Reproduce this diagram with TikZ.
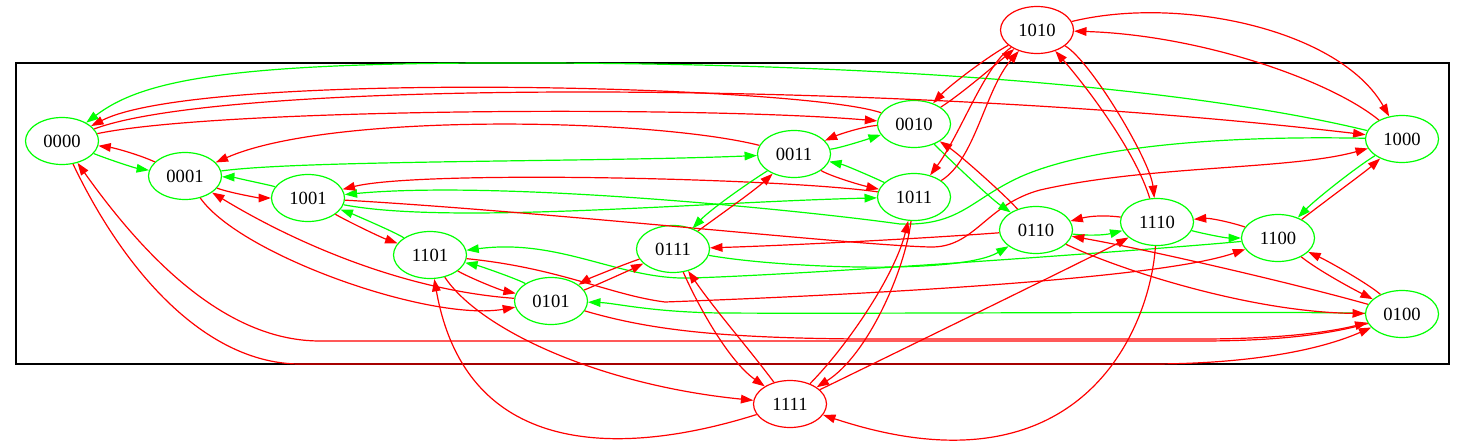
\documentclass[tikz,border=0pt]{standalone}
\usepackage{fontspec}
\setmainfont{Liberation Serif}
\usetikzlibrary{shapes.geometric,arrows.meta}
\definecolor{gvred}{RGB}{255,0,0}
\definecolor{gvgreen}{RGB}{0,255,0}
\begin{document}
\begin{tikzpicture}[x=0.5pt,y=-0.5pt,
  st/.style={ellipse,draw=#1,line width=0.6pt,minimum width=36.5pt,minimum height=23.5pt,inner sep=0pt,font=\fontsize{9.3}{11}\selectfont},
  ed/.style={draw=#1,line width=0.6pt,-{Triangle[length=6.2pt,width=4.3pt]}},
  rd/.style={ed=gvred}, gr/.style={ed=gvgreen}]
\useasboundingbox (0,0) rectangle (1465,444);
\draw[line width=0.6pt] (16,63) rectangle (1449,364);
% nodes
\node[st=gvred]   (a1010) at (1037,30)  {1010};
\node[st=gvgreen] (a0000) at (62,141)   {0000};
\node[st=gvgreen] (a0001) at (185,176)  {0001};
\node[st=gvgreen] (a1001) at (308,198)  {1001};
\node[st=gvgreen] (a1101) at (430,255)  {1101};
\node[st=gvgreen] (a0101) at (551,301)  {0101};
\node[st=gvgreen] (a0111) at (673,249)  {0111};
\node[st=gvgreen] (a0011) at (794,154)  {0011};
\node[st=gvgreen] (a0010) at (914,124)  {0010};
\node[st=gvgreen] (a1011) at (914,197)  {1011};
\node[st=gvgreen] (a0110) at (1036,230) {0110};
\node[st=gvgreen] (a1110) at (1157,222) {1110};
\node[st=gvgreen] (a1100) at (1278,238) {1100};
\node[st=gvgreen] (a1000) at (1402,139) {1000};
\node[st=gvgreen] (a0100) at (1402,314) {0100};
\node[st=gvred]   (a1111) at (790,404)  {1111};
% 0000
\draw[gr] (a0000) .. controls (110,160) and (135,168) .. (a0001);
\draw[rd] (a0001) .. controls (140,155) and (115,148) .. (a0000);
\draw[rd] (a0000) .. controls (220,108) and (700,106) .. (a0010);
\draw[rd] (a0000) .. controls (230,78) and (900,80) .. (a1000);
\draw[rd] (a0010) .. controls (800,85) and (200,70) .. (a0000);
\draw[rd] (a0000) .. controls (128,279) and (210,364) .. (300,364) -- (1150,364) .. controls (1250,364) and (1320,350) .. (a0100);
\draw[rd] (a0100) .. controls (1330,334) and (1280,341) .. (1200,341) -- (320,341) .. controls (230,341) and (150,265) .. (a0000);
\draw[gr] (a1000) .. controls (1200,90) and (900,62) .. (500,63) .. controls (220,63) and (140,82) .. (a0000);
% 0001
\draw[gr] (a0001) .. controls (300,160) and (600,162) .. (a0011);
\draw[rd] (a0011) .. controls (650,118) and (330,112) .. (a0001);
\draw[rd] (a0001) .. controls (230,193) and (260,198) .. (a1001);
\draw[rd] (a0101) .. controls (400,290) and (290,240) .. (a0001);
\draw[rd] (a0001) .. controls (240,255) and (430,322) .. (a0101);
\draw[gr] (a1001) .. controls (270,185) and (230,177) .. (a0001);
% 1001
\draw[rd] (a1001) .. controls (345,220) and (380,237) .. (a1101);
\draw[gr] (a1101) .. controls (395,232) and (350,213) .. (a1001);
\draw[gr] (a1001) .. controls (450,225) and (700,202) .. (a1011);
\draw[gr] (a1000) .. controls (1200,135) and (1080,150) .. (1020,177) .. controls (970,200) and (960,226) .. (900,224) .. controls (800,210) and (500,180) .. (a1001);
\draw[rd] (a1011) .. controls (780,178) and (420,170) .. (a1001);
\draw[rd] (a1001) .. controls (550,212) and (850,245) .. (930,247) .. controls (975,248) and (985,205) .. (1040,190) .. controls (1150,165) and (1290,170) .. (a1000);
% 1101
\draw[rd] (a1101) .. controls (470,278) and (500,290) .. (a0101);
\draw[gr] (a0101) .. controls (520,280) and (480,266) .. (a1101);
\draw[rd] (a1101) .. controls (560,268) and (610,295) .. (665,302) .. controls (800,297) and (1150,282) .. (a1100);
\draw[gr] (a1100) .. controls (1150,250) and (800,275) .. (690,278) .. controls (620,280) and (560,238) .. (a1101);
\draw[rd] (a1101) .. controls (480,330) and (600,385) .. (a1111);
\draw[rd] (a1111) .. controls (660,445) and (470,480) .. (a1101);
% 0101
\draw[rd] (a0101) .. controls (590,288) and (630,270) .. (a0111);
\draw[rd] (a0111) .. controls (630,262) and (590,278) .. (a0101);
\draw[rd] (a0101) .. controls (650,330) and (720,338) .. (860,339) -- (1200,339) .. controls (1280,339) and (1330,332) .. (a0100);
\draw[gr] (a0100) .. controls (1250,311) and (900,314) .. (720,313) .. controls (650,312) and (615,303) .. (a0101);
% 0111
\draw[gr] (a0111) .. controls (780,268) and (960,275) .. (a0110);
\draw[rd] (a0110) .. controls (930,238) and (800,245) .. (a0111);
\draw[rd] (a0111) .. controls (720,215) and (755,190) .. (a0011);
\draw[gr] (a0011) .. controls (745,185) and (710,210) .. (a0111);
\draw[rd] (a0111) .. controls (700,310) and (730,362) .. (a1111);
\draw[rd] (a1111) .. controls (750,350) and (715,310) .. (a0111);
% 0011
\draw[gr] (a0011) .. controls (840,148) and (865,140) .. (a0010);
\draw[rd] (a0010) .. controls (865,126) and (840,134) .. (a0011);
\draw[rd] (a0011) .. controls (830,176) and (860,185) .. (a1011);
\draw[gr] (a1011) .. controls (875,178) and (845,165) .. (a0011);
% 0010
\draw[gr] (a0010) .. controls (950,160) and (990,198) .. (a0110);
\draw[rd] (a0110) .. controls (1005,195) and (960,155) .. (a0010);
\draw[rd] (a0010) .. controls (960,95) and (995,65) .. (a1010);
\draw[rd] (a1010) .. controls (990,55) and (950,85) .. (a0010);
% 1011
\draw[rd] (a1011) .. controls (975,160) and (985,90) .. (a1010);
\draw[rd] (a1010) .. controls (985,65) and (960,135) .. (a1011);
\draw[rd] (a1011) .. controls (905,270) and (868,355) .. (a1111);
\draw[rd] (a1111) .. controls (848,345) and (895,275) .. (a1011);
% 0110
\draw[gr] (a0110) .. controls (1090,236) and (1105,235) .. (a1110);
\draw[rd] (a1110) .. controls (1105,215) and (1090,216) .. (a0110);
\draw[rd] (a0110) .. controls (1120,270) and (1250,312) .. (a0100);
\draw[rd] (a0100) .. controls (1300,285) and (1150,250) .. (a0110);
% 1110
\draw[gr] (a1110) .. controls (1205,234) and (1225,238) .. (a1100);
\draw[rd] (a1100) .. controls (1230,222) and (1210,218) .. (a1110);
\draw[rd] (a1010) .. controls (1090,60) and (1150,160) .. (a1110);
\draw[rd] (a1110) .. controls (1135,150) and (1085,85) .. (a1010);
\draw[rd] (a1110) .. controls (1150,330) and (1080,500) .. (a1111);
\draw[rd] (a1111) .. controls (840,380) and (1100,253) .. (a1110);
% 1100
\draw[rd] (a1100) .. controls (1320,205) and (1365,172) .. (a1000);
\draw[gr] (a1000) .. controls (1355,168) and (1315,200) .. (a1100);
\draw[rd] (a1100) .. controls (1315,268) and (1345,285) .. (a0100);
\draw[rd] (a0100) .. controls (1370,285) and (1330,262) .. (a1100);
% 1000
\draw[rd] (a1000) .. controls (1330,80) and (1200,35) .. (a1010);
\draw[rd] (a1010) .. controls (1180,-5) and (1340,30) .. (a1000);
\end{tikzpicture}
\end{document}
